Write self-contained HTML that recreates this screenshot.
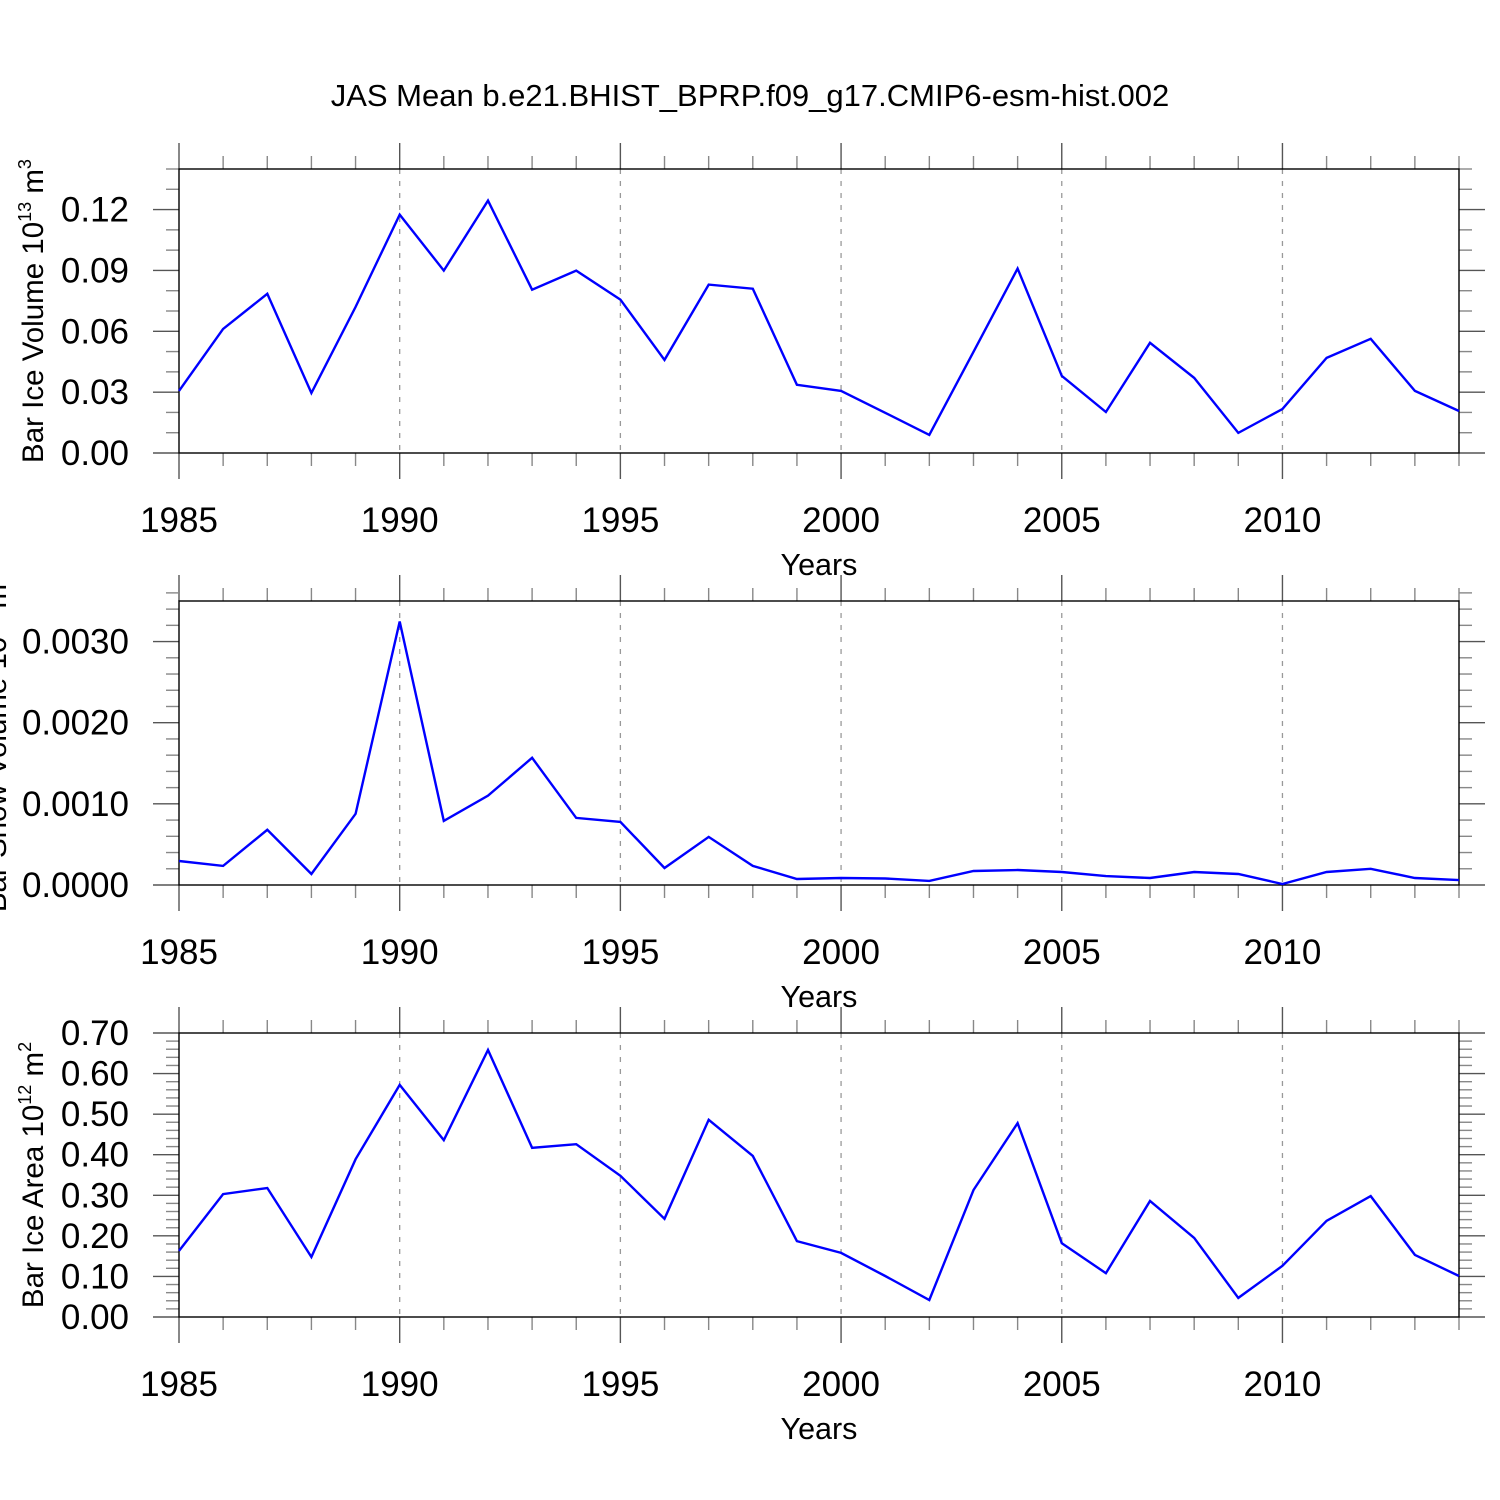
<!DOCTYPE html>
<html><head><meta charset="utf-8"><style>
html,body{margin:0;padding:0;background:#fff;}
svg{display:block;font-family:"Liberation Sans",sans-serif;}
</style></head><body>
<svg id="chart" width="1500" height="1500" viewBox="0 0 1500 1500" xmlns="http://www.w3.org/2000/svg">
<rect width="1500" height="1500" fill="#fff"/>
<text x="750" y="106" font-size="31" text-anchor="middle">JAS Mean b.e21.BHIST_BPRP.f09_g17.CMIP6-esm-hist.002</text>
</svg>
<script>
const years = [1985,1986,1987,1988,1989,1990,1991,1992,1993,1994,1995,1996,1997,1998,1999,2000,2001,2002,2003,2004,2005,2006,2007,2008,2009,2010,2011,2012,2013,2014];
const iceVolume = [0.0306,0.0612,0.0785,0.0296,0.072,0.1175,0.0899,0.1244,0.0805,0.0899,0.0756,0.0459,0.083,0.081,0.0336,0.0306,0.0198,0.0089,0.0499,0.0909,0.038,0.0202,0.0543,0.037,0.0099,0.0217,0.0469,0.0563,0.0306,0.0207];
const snowVolume = [0.000296,0.000235,0.00068,0.000136,0.000877,0.003247,0.00079,0.0011,0.001568,0.000827,0.000778,0.00021,0.000593,0.000235,0.000074,0.000086,0.00008,0.00005,0.000173,0.000185,0.00016,0.00011,0.000086,0.00016,0.000136,0.000012,0.00016,0.0002,0.000086,0.00006];
const iceArea = [0.163,0.303,0.318,0.148,0.389,0.572,0.436,0.658,0.417,0.426,0.348,0.242,0.486,0.397,0.187,0.158,0.101,0.042,0.313,0.478,0.182,0.108,0.286,0.195,0.047,0.126,0.237,0.298,0.153,0.101];
const xTickLabels = ["1985","1990","1995","2000","2005","2010"];
const ticks1 = ["0.00","0.03","0.06","0.09","0.12"];
const ticks2 = ["0.0000","0.0010","0.0020","0.0030"];
const ticks3 = ["0.00","0.10","0.20","0.30","0.40","0.50","0.60","0.70"];

const NS="http://www.w3.org/2000/svg";
const svg=document.getElementById('chart');
function mk(tag,attrs,parent){const e=document.createElementNS(NS,tag);for(const k in attrs)e.setAttribute(k,attrs[k]);(parent||svg).appendChild(e);return e;}

const X0=179,X1=1459;
function xs(yr){return X0+(yr-1985)/(2014-1985)*(X1-X0);}

function panel(name,top,ymax,majorStep,minorStep,tickLabels,values,label,labelX,sup1,sup2){
  const bot=top+284;
  const ys=v=>bot-(v/ymax)*(bot-top);
  const g=mk('g',{});
  
  
  for(let yr=1990;yr<=2010;yr+=5){
    const l=mk('line',{x1:xs(yr),x2:xs(yr),y1:top,y2:bot,stroke:'#999','stroke-width':1.3,'stroke-dasharray':'5,7'},g);
    
    
  }
  for(let yr=1985;yr<=2014;yr++){
    const major=(yr%5===0);const len=major?26:13;
    mk('line',{x1:xs(yr),x2:xs(yr),y1:top,y2:top-len,stroke:major?'#555':'#888','stroke-width':1.4},g);
    mk('line',{x1:xs(yr),x2:xs(yr),y1:bot,y2:bot+len,stroke:major?'#555':'#888','stroke-width':1.4},g);
  }
  const nMinor=Math.round(ymax/minorStep);
  for(let i=0;i<=nMinor;i++){
    const v=i*minorStep;const y=ys(v);
    const major=Math.abs(v/majorStep-Math.round(v/majorStep))<1e-6;
    const len=major?26:13;
    mk('line',{x1:X0,x2:X0-len,y1:y,y2:y,stroke:major?'#555':'#888','stroke-width':1.4},g);
    mk('line',{x1:X1,x2:X1+len,y1:y,y2:y,stroke:major?'#555':'#888','stroke-width':1.4},g);
  }
  const fr=mk('rect',{x:X0,y:top,width:X1-X0,height:bot-top,fill:'none',stroke:'#000','stroke-width':1.4},g);
  
  
  tickLabels.forEach((t,i)=>{
    const tx=mk('text',{x:129,y:ys(i*majorStep)+12,'font-size':35,'text-anchor':'end'},g);
    tx.textContent=t;
    
    
  });
  xTickLabels.forEach(t=>{
    const tx=mk('text',{x:xs(+t),y:bot+79,'font-size':35,'text-anchor':'middle'},g);
    tx.textContent=t;
    
    
  });
  const xt=mk('text',{x:819,y:bot+122,'font-size':30.5,'text-anchor':'middle'},g);
  xt.textContent='Years';
  
  
  const cy=(top+bot)/2;
  const yt=mk('text',{x:0,y:0,'font-size':29.5,'text-anchor':'middle',transform:`translate(${labelX},${cy}) rotate(-90)`},g);
  
  
  const a=mk('tspan',{},yt);a.textContent=label;
  const b=mk('tspan',{'font-size':18,dy:-12},yt);b.textContent=sup1;
  const c=mk('tspan',{dy:12},yt);c.textContent=' m';
  const d=mk('tspan',{'font-size':18,dy:-12},yt);d.textContent=sup2;
  const pts=years.map((yr,i)=>xs(yr).toFixed(1)+','+ys(values[i]).toFixed(1)).join(' ');
  const pl=mk('polyline',{points:pts,fill:'none',stroke:'#0000ff','stroke-width':2.4,'stroke-linejoin':'miter'},g);
  
  
}
panel('panel-ice-volume',169,0.14,0.03,0.01,ticks1,iceVolume,'Bar Ice Volume 10',43,'13','3');
panel('panel-snow-volume',601,0.0035,0.001,0.0002,ticks2,snowVolume,'Bar Snow Volume 10',6,'13','3');
panel('panel-ice-area',1033,0.70,0.10,0.02,ticks3,iceArea,'Bar Ice Area 10',43,'12','2');
</script>
</body></html>
